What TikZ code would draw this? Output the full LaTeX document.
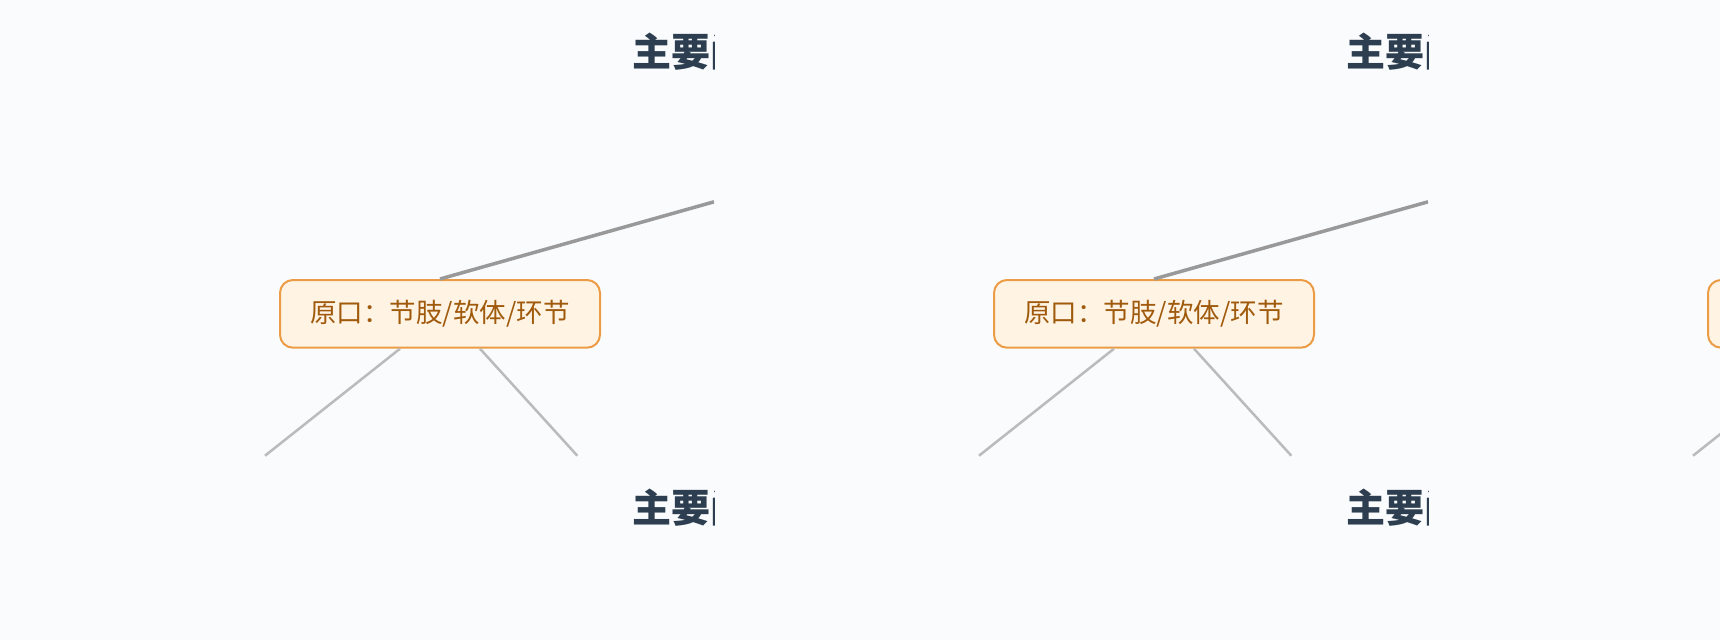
\documentclass[tikz,border=0pt]{standalone}
\usepackage{fontspec}
\newfontfamily\cjk{Noto Sans CJK SC}
\definecolor{bgc}{RGB}{250,251,253}
\definecolor{titlec}{RGB}{44,62,80}
\definecolor{boxdraw}{RGB}{235,156,69}
\definecolor{boxfill}{RGB}{255,243,228}
\definecolor{boxtext}{RGB}{160,90,12}
\definecolor{linetop}{RGB}{153,153,153}
\definecolor{linelow}{RGB}{187,187,187}
\tikzset{
  titlest/.style={anchor=west,inner sep=0pt,text=titlec,font=\cjk\bfseries\fontsize{39}{41}\selectfont},
  boxst/.style={draw=boxdraw,fill=boxfill,line width=2pt,rounded corners=13pt,
    minimum width=320pt,minimum height=67.7pt,inner sep=0pt,text=boxtext,
    font=\cjk\fontsize{26.5}{28}\selectfont},
  toplink/.style={draw=linetop,line width=3.5pt},
  lowlink/.style={draw=linelow,line width=2.5pt}
}
\begin{document}
\begin{tikzpicture}[x=1pt,y=-1pt]
\fill[bgc] (0,0) rectangle (1720,640);
\useasboundingbox (0,0) rectangle (1720,640);
\foreach \k in {0,1,2}{
  \begin{scope}[xshift=\k*714pt]
    \clip (0,0) rectangle (714,640);
    \node[titlest] (ta\k) at (632,52) {主要门类};
    \node[titlest] (tb\k) at (632,508) {主要门类};
    \node[boxst] (bx\k) at (440,313.85) {\raisebox{-2pt}{原口：节肢/软体/环节}};
    \coordinate (tl\k) at (714,201.8);
    \coordinate (ll\k) at (265,455.7);
    \coordinate (rl\k) at (577.3,455.7);
    \draw[lowlink] ([xshift=-40pt]bx\k.south) -- (ll\k);
    \draw[lowlink] ([xshift=40pt]bx\k.south) -- (rl\k);
    \draw[toplink] (bx\k.north) -- (tl\k);
  \end{scope}
}
\end{tikzpicture}
\end{document}
